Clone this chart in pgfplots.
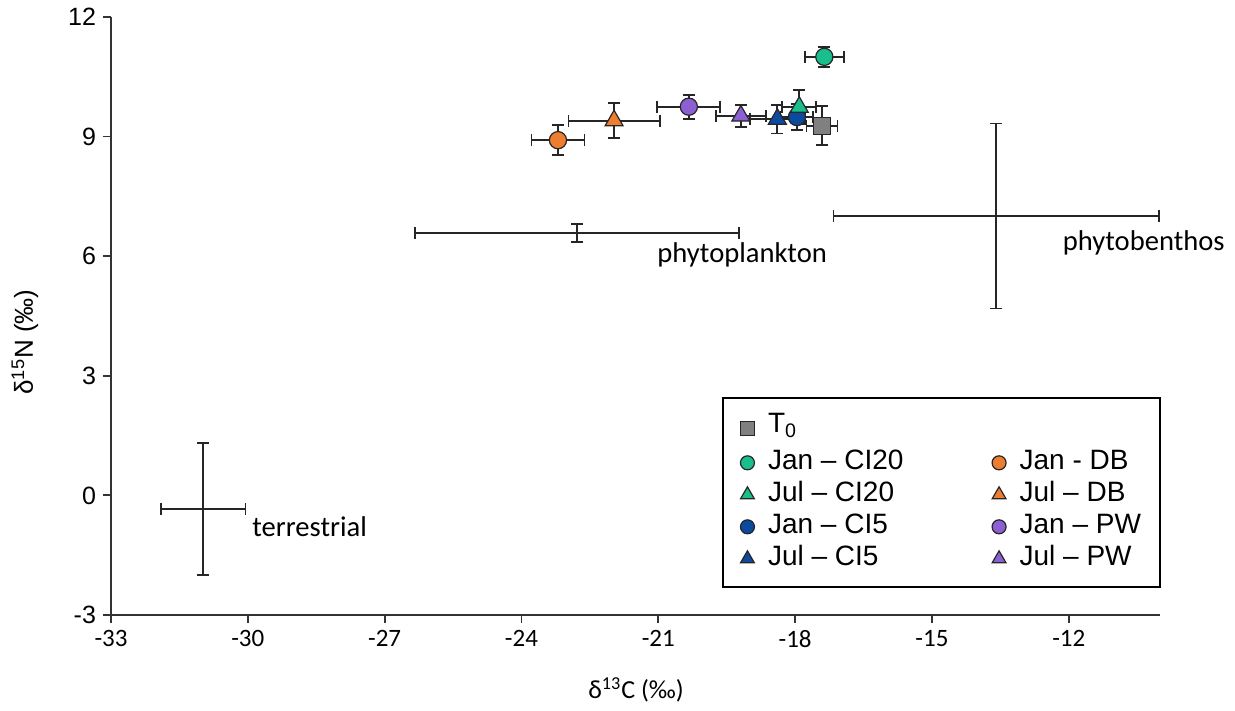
\documentclass[border=0pt]{standalone}
\usepackage{pgfplots}
\pgfplotsset{compat=1.18}
\usepackage{fontspec}
\setmainfont{Liberation Sans}
\newfontfamily\carlito{Carlito}
\definecolor{cgreen}{RGB}{24,190,140}
\definecolor{corange}{RGB}{237,125,49}
\definecolor{cblue}{RGB}{12,74,160}
\definecolor{cpurple}{RGB}{140,95,210}
\definecolor{cgray}{RGB}{128,128,128}
\pgfplotsset{
  eb/.style={error bars/.cd, x dir=both, x explicit, y dir=both, y explicit,
    error bar style={draw=black!85, line width=0.9pt},
    error mark options={rotate=90, draw=black!85, mark size=3pt, line width=0.9pt}},
  pt/.style n args={3}{forget plot, only marks, mark=#1, mark size=#2,
    mark options={draw=black!85, fill=#3, line width=0.6pt}, eb},
  src/.style={forget plot, only marks, mark=*, mark size=0pt, mark options={draw=none, fill=none}, eb},
}
\begin{document}
\begin{tikzpicture}
\begin{axis}[
  scale only axis, width=524.5pt, height=299pt,
  clip=false,
  xmin=-33, xmax=-10, ymin=-3, ymax=12,
  xtick={-33,-30,-27,-24,-21,-18,-15,-12},
  ytick={-3,0,3,6,9,12},
  axis x line*=bottom, axis y line*=left,
  axis line style={black!80, line width=0.9pt},
  tick style={black!80, line width=0.9pt},
  tick align=outside, major tick length=4pt,
  /pgf/number format/assume math mode=true,
  xticklabel style={font=\carlito\fontsize{12.5}{14}\selectfont},
  yticklabel style={font=\fontsize{12.5}{14}\selectfont},
  xlabel={\carlito δ\textsuperscript{13}C (‰)},
  ylabel={δ\textsuperscript{15}N (‰)},
  label style={font=\fontsize{13}{15}\selectfont},
  xlabel style={at={(axis description cs:0.5005,-0.1254)}, anchor=center},
  ylabel style={at={(axis description cs:-0.082,0.4565)}, anchor=center},
  legend columns=2, legend cell align=left,
  legend image code/.code={\draw[#1] plot coordinates {(0pt,0pt)}; \path (-4pt,0pt) (8.5pt,0pt);},
  legend style={at={(axis description cs:0.5825,0.3645)}, anchor=north west,
    draw=black, line width=0.8pt, font=\fontsize{14}{16}\selectfont,
    inner xsep=8pt, inner ysep=6pt, row sep=0pt,
    /tikz/every even column/.append style={column sep=42pt},
    nodes={text height=10pt, text depth=3pt, inner sep=1.5pt}},
]
% sources
\addplot[src] coordinates {(-22.78,6.58) +- (3.55,0.23)};
\addplot[src] coordinates {(-13.59,7.01) +- (3.57,2.32)};
\addplot[src] coordinates {(-30.98,-0.34) +- (0.93,1.66)};
\node[anchor=west, inner sep=0pt, font=\carlito\fontsize{14.3}{16}\selectfont] at (axis cs:-21.03,6.03) {phytoplankton};
\node[anchor=west, inner sep=0pt, font=\carlito\fontsize{14.3}{16}\selectfont] at (axis cs:-12.14,6.33) {phytobenthos};
\node[anchor=west, inner sep=0pt, font=\carlito\fontsize{14.3}{16}\selectfont] at (axis cs:-29.91,-0.79) {terrestrial};
% consumers
\addplot[pt={*}{4.3pt}{corange}] coordinates {(-23.20,8.91) +- (0.58,0.38)};
\addplot[pt={triangle*}{5.2pt}{corange}] coordinates {(-21.97,9.40) +- (1.00,0.44)};
\addplot[pt={*}{4.3pt}{cpurple}] coordinates {(-20.33,9.75) +- (0.69,0.30)};
\addplot[pt={triangle*}{5.2pt}{cpurple}] coordinates {(-19.19,9.52) +- (0.55,0.28)};
\addplot[pt={triangle*}{5.2pt}{cblue}] coordinates {(-18.39,9.44) +- (0.60,0.36)};
\addplot[pt={*}{4.3pt}{cblue}] coordinates {(-17.96,9.49) +- (0.36,0.33)};
\addplot[pt={triangle*}{5.2pt}{cgreen}] coordinates {(-17.91,9.74) +- (0.37,0.43)};
\addplot[pt={square*}{4.2pt}{cgray}] coordinates {(-17.41,9.27) +- (0.34,0.49)};
\addplot[pt={*}{4.3pt}{cgreen}] coordinates {(-17.36,11.00) +- (0.43,0.25)};
% legend
\addlegendimage{mark=square*, mark size=3.4pt, draw=black!85, fill=cgray, line width=0.6pt}
\addlegendentry[text depth=5.5pt]{T\textsubscript{0}}
\addlegendimage{empty legend}\addlegendentry{}
\addlegendimage{mark=*, mark size=3.5pt, draw=black!85, fill=cgreen, line width=0.6pt}
\addlegendentry{Jan – CI20}
\addlegendimage{mark=*, mark size=3.5pt, draw=black!85, fill=corange, line width=0.6pt}
\addlegendentry{Jan - DB}
\addlegendimage{mark=triangle*, mark size=4pt, draw=black!85, fill=cgreen, line width=0.6pt}
\addlegendentry{Jul – CI20}
\addlegendimage{mark=triangle*, mark size=4pt, draw=black!85, fill=corange, line width=0.6pt}
\addlegendentry{Jul – DB}
\addlegendimage{mark=*, mark size=3.5pt, draw=black!85, fill=cblue, line width=0.6pt}
\addlegendentry{Jan – CI5}
\addlegendimage{mark=*, mark size=3.5pt, draw=black!85, fill=cpurple, line width=0.6pt}
\addlegendentry{Jan – PW}
\addlegendimage{mark=triangle*, mark size=4pt, draw=black!85, fill=cblue, line width=0.6pt}
\addlegendentry{Jul – CI5}
\addlegendimage{mark=triangle*, mark size=4pt, draw=black!85, fill=cpurple, line width=0.6pt}
\addlegendentry{Jul – PW}
\coordinate (SW) at (rel axis cs:0,0);
\end{axis}
\pgfresetboundingbox
\path[use as bounding box] ([shift={(-55.5pt,-48pt)}]SW) rectangle ([shift={(562pt,307.5pt)}]SW);
\end{tikzpicture}
\end{document}
